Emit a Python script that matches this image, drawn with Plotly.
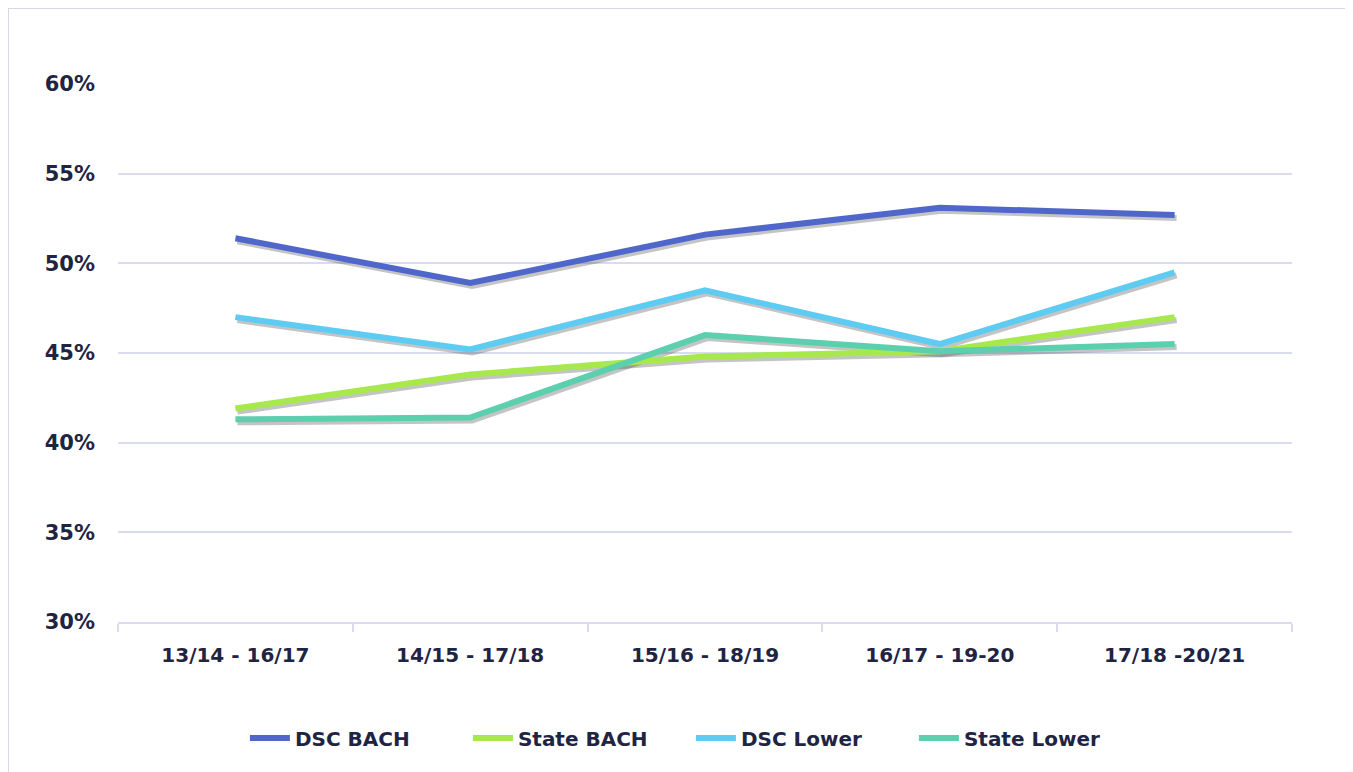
import plotly.graph_objects as go

categories = ["13/14 - 16/17", "14/15 - 17/18", "15/16 - 18/19", "16/17 - 19-20", "17/18 -20/21"]
dsc_bach = [51.4, 48.9, 51.6, 53.1, 52.7]
state_bach = [41.9, 43.8, 44.8, 45.1, 47.0]
dsc_lower = [47.0, 45.2, 48.5, 45.5, 49.5]
state_lower = [41.3, 41.4, 46.0, 45.1, 45.5]

series = [
    ("DSC BACH", dsc_bach, "#4f67cb"),
    ("State BACH", state_bach, "#a7e84c"),
    ("DSC Lower", dsc_lower, "#5ecbf3"),
    ("State Lower", state_lower, "#5ccfae"),
]

FONT = "DejaVu Sans"
TXT = "#1f2442"
GRID = "#d9dcee"

fig = go.Figure()

# soft shadows on hidden base axes (shifted slightly down/right)
for name, vals, col in series:
    fig.add_trace(go.Scatter(x=categories, y=vals, mode="lines", xaxis="x", yaxis="y",
                             line=dict(color="rgba(60,60,60,0.30)", width=6),
                             showlegend=False, hoverinfo="skip"))

for name, vals, col in series:
    fig.add_trace(go.Scatter(x=categories, y=vals, mode="lines", name=name,
                             xaxis="x2", yaxis="y2",
                             line=dict(color=col, width=6)))

L, R, T, B = 110, 61, 76, 150
W, H = 1345, 764
PW = W - L - R
PH = H - T - B

dx = 2 * 5 / PW
dy = 3 * 30 / PH

fig.update_layout(
    width=W, height=H,
    margin=dict(l=L, r=R, t=T, b=B),
    paper_bgcolor="white", plot_bgcolor="white",
    font=dict(family=FONT, size=20, color=TXT),
    xaxis=dict(type="category", range=[-0.5 - dx, 4.5 - dx], visible=False, fixedrange=True),
    yaxis=dict(range=[30 + dy, 60 + dy], visible=False, fixedrange=True),
    xaxis2=dict(type="category", overlaying="x", side="bottom", range=[-0.5, 4.5],
                showgrid=False, showline=True, linecolor=GRID, linewidth=2,
                ticks="outside", tickson="boundaries", ticklen=8, tickcolor=GRID, tickwidth=2,
                tickfont=dict(family=FONT, size=20, color=TXT, weight="bold"),
                ticklabelstandoff=14),
    yaxis2=dict(overlaying="y", side="left", range=[30, 60], dtick=5, tick0=30,
                ticksuffix="%", showgrid=True, gridcolor=GRID, gridwidth=2,
                zeroline=False, showline=False, ticks="",
                tickfont=dict(family=FONT, size=21, color=TXT, weight="bold"),
                ticklabelstandoff=22),
    legend=dict(orientation="h", x=0.488, xanchor="center", y=-(730 - T - PH) / PH,
                yanchor="middle",
                font=dict(family=FONT, size=20, color=TXT, weight="bold"),
                itemwidth=40, entrywidth=168, entrywidthmode="pixels"),
    shapes=[dict(type="rect", xref="paper", yref="paper",
                 x0=(0 - L) / PW, x1=(1344 - L) / PW,
                 y0=-(H + 20 - T - PH) / PH, y1=(PH + T) / PH,
                 line=dict(color="#d6d8ea", width=2), fillcolor="rgba(0,0,0,0)", layer="below")],
)

fig.write_html("out.html")
